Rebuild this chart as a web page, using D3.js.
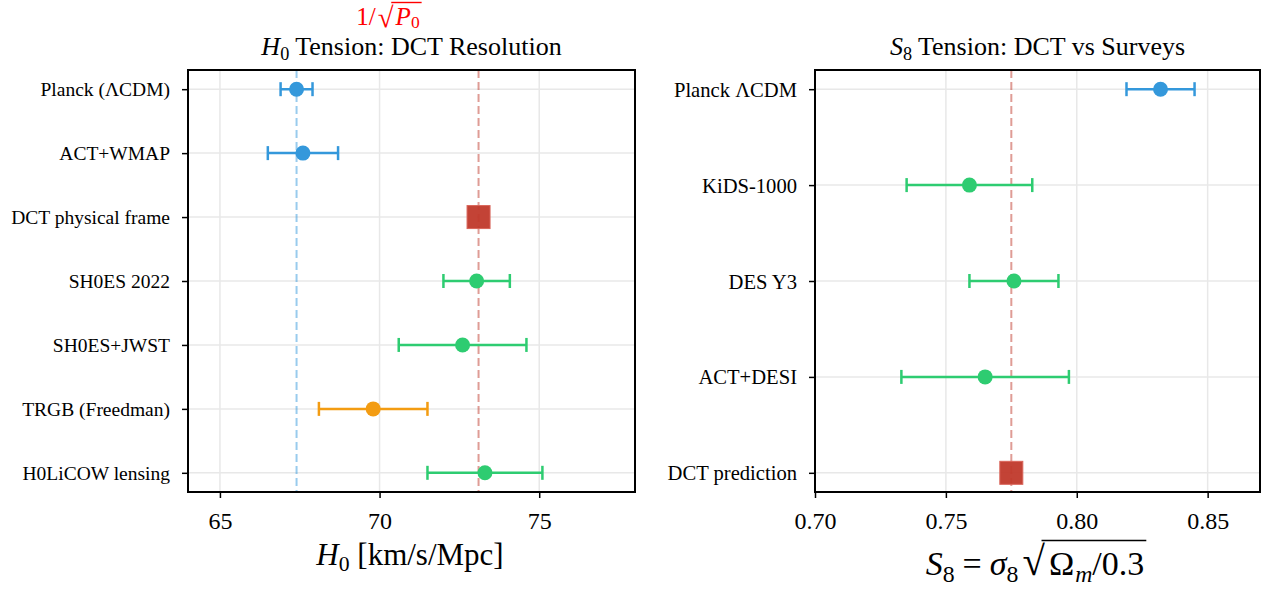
<!DOCTYPE html>
<html>
<head>
<meta charset="utf-8">
<script src="https://cdn.jsdelivr.net/npm/d3@7"></script>
<style>
  body { margin: 0; background: #fff; }
  text { white-space: pre; }
</style>
</head>
<body>
<svg id="chart" width="1261" height="589"></svg>
<script>
// DATA
var h0Labels = ["Planck (ΛCDM)", "ACT+WMAP", "DCT physical frame", "SH0ES 2022", "SH0ES+JWST", "TRGB (Freedman)", "H0LiCOW lensing"];
var h0Values = [67.4, 67.6, 73.1, 73.04, 72.6, 69.8, 73.3];
var h0Errors = [0.5, 1.1, 0, 1.04, 2.0, 1.7, 1.8];
var h0Kinds = ["cmb", "cmb", "dct", "local", "local", "trgb", "local"];
var h0Ticks = [65, 70, 75];
var h0Domain = [64, 78];
var h0PlanckLine = 67.4;
var h0DctLine = 73.1;

var s8Labels = ["Planck ΛCDM", "KiDS-1000", "DES Y3", "ACT+DESI", "DCT prediction"];
var s8Values = [0.832, 0.759, 0.776, 0.765, 0.775];
var s8Errors = [0.013, 0.024, 0.017, 0.032, 0];
var s8Kinds = ["cmb", "local", "local", "local", "dct"];
var s8Ticks = [0.70, 0.75, 0.80, 0.85];
var s8Domain = [0.70, 0.87];
var s8DctLine = 0.775;

var colors = { cmb: "#3498db", local: "#2ecc71", trgb: "#f39c12", dct: "#c0392b" };
var serif = "'Liberation Serif', 'Times New Roman', serif";

var svg = d3.select("#chart");

// little helper to lay out text with italics / subscripts / radical bar
function mathText(g, cx, baseline, parts, size, color, subDrop) {
  var grp = g.append("g");
  var drop = subDrop === undefined ? size * 0.2 : subDrop;
  var x = 0, barStart = null, barEnd = null, barY = baseline - size * 0.78;
  parts.forEach(function (p) {
    var fs = p.sub ? size * 0.7 : size * (p.scale || 1);
    var t = grp.append("text")
      .attr("x", x)
      .attr("y", baseline + (p.sub ? drop : 0) + (p.dy || 0))
      .attr("fill", color)
      .style("font-family", serif)
      .style("font-size", fs + "px")
      .style("font-style", p.it ? "italic" : "normal")
      .text(p.t);
    var w = t.node().getComputedTextLength();
    if (p.rad) {
      barStart = x + w * 0.85;
      barY = t.node().getBBox().y + 1.5;
    }
    if (p.under) { barEnd = x + w; }
    x += w + (p.gap || 0);
  });
  if (barStart !== null) {
    grp.append("line")
      .attr("x1", barStart).attr("x2", barEnd + 2)
      .attr("y1", barY).attr("y2", barY)
      .attr("stroke", color).attr("stroke-width", 1.4);
  }
  grp.attr("transform", "translate(" + (cx - x / 2) + ",0)");
  return grp;
}

function panel(opt) {
  var x = d3.scaleLinear().domain(opt.domain).range([opt.x0, opt.x1]);
  var y = d3.scaleLinear().domain(opt.yDomain).range([opt.y0, opt.y1]);
  var g = svg.append("g");
  var idx = d3.range(opt.labels.length);

  // grid
  g.selectAll(".gx").data(opt.ticks).enter().append("line")
    .attr("x1", function (d) { return x(d); }).attr("x2", function (d) { return x(d); })
    .attr("y1", opt.y0).attr("y2", opt.y1)
    .attr("stroke", "#e8e8e8").attr("stroke-width", 1.5);
  g.selectAll(".gy").data(idx).enter().append("line")
    .attr("x1", opt.x0).attr("x2", opt.x1)
    .attr("y1", function (d) { return y(d); }).attr("y2", function (d) { return y(d); })
    .attr("stroke", "#e8e8e8").attr("stroke-width", 1.5);

  // reference lines
  opt.refs.forEach(function (r) {
    g.append("line")
      .attr("x1", x(r.v)).attr("x2", x(r.v))
      .attr("y1", opt.y0).attr("y2", opt.y1)
      .attr("stroke", r.c).attr("stroke-opacity", 0.5)
      .attr("stroke-width", 2).attr("stroke-dasharray", "8,4");
  });

  // error bars
  var eb = idx.filter(function (i) { return opt.errors[i] > 0; });
  var bars = g.selectAll(".eb").data(eb).enter().append("g").attr("class", "eb")
    .attr("stroke", function (i) { return colors[opt.kinds[i]]; })
    .attr("stroke-width", 2.5);
  bars.append("line")
    .attr("x1", function (i) { return x(opt.values[i] - opt.errors[i]); })
    .attr("x2", function (i) { return x(opt.values[i] + opt.errors[i]); })
    .attr("y1", function (i) { return y(i); }).attr("y2", function (i) { return y(i); });
  [-1, 1].forEach(function (s) {
    bars.append("line")
      .attr("x1", function (i) { return x(opt.values[i] + s * opt.errors[i]); })
      .attr("x2", function (i) { return x(opt.values[i] + s * opt.errors[i]); })
      .attr("y1", function (i) { return y(i) - 7; }).attr("y2", function (i) { return y(i) + 7; });
  });

  // markers
  g.selectAll(".pt").data(idx.filter(function (i) { return opt.kinds[i] !== "dct"; }))
    .enter().append("circle")
    .attr("cx", function (i) { return x(opt.values[i]); })
    .attr("cy", function (i) { return y(i); })
    .attr("r", 7.5)
    .attr("fill", function (i) { return colors[opt.kinds[i]]; });
  g.selectAll(".sq").data(idx.filter(function (i) { return opt.kinds[i] === "dct"; }))
    .enter().append("rect")
    .attr("x", function (i) { return x(opt.values[i]) - 11.5; })
    .attr("y", function (i) { return y(i) - 11.5; })
    .attr("width", 23).attr("height", 23)
    .attr("fill", colors.dct).attr("fill-opacity", 0.95)
    .attr("stroke", "#d9655a").attr("stroke-width", 1);

  // axes
  var ax = g.append("g").attr("transform", "translate(0," + opt.y1 + ")")
    .call(d3.axisBottom(x).tickValues(opt.ticks).tickFormat(opt.fmt).tickSize(6).tickPadding(8));
  ax.select(".domain").remove();
  ax.selectAll(".tick line").attr("stroke", "#000").attr("stroke-width", 1.5);
  ax.selectAll(".tick text").attr("fill", "#000").attr("dy", null).attr("y", 37)
    .style("font-family", serif).style("font-size", "24px");

  var ay = g.append("g").attr("transform", "translate(" + opt.x0 + ",0)")
    .call(d3.axisLeft(y).tickValues(idx).tickFormat(function (i) { return opt.labels[i]; }).tickSize(6).tickPadding(12));
  ay.select(".domain").remove();
  ay.selectAll(".tick line").attr("stroke", "#000").attr("stroke-width", 1.5);
  ay.selectAll(".tick text").attr("fill", "#000").attr("dy", "0.34em")
    .style("font-family", serif).style("font-size", opt.ySize + "px");

  // frame
  g.append("rect")
    .attr("x", opt.x0).attr("y", opt.y0)
    .attr("width", opt.x1 - opt.x0).attr("height", opt.y1 - opt.y0)
    .attr("fill", "none").attr("stroke", "#000").attr("stroke-width", 2);

  mathText(g, (opt.x0 + opt.x1) / 2, 55, opt.title, 26, "#000");
  mathText(g, opt.xLabelX, opt.xLabelY, opt.xLabel, opt.xLabelSize, "#000");
  return { x: x, y: y, g: g };
}

var left = panel({
  x0: 188, x1: 635, y0: 70, y1: 492,
  domain: h0Domain, yDomain: [-0.3, h0Labels.length - 1 + 0.3],
  labels: h0Labels, values: h0Values, errors: h0Errors, kinds: h0Kinds,
  ticks: h0Ticks, fmt: d3.format("d"), ySize: 19.5,
  refs: [{ v: h0PlanckLine, c: colors.cmb }, { v: h0DctLine, c: colors.dct }],
  title: [{ t: "H", it: true }, { t: "0", sub: true }, { t: " Tension: DCT Resolution" }],
  xLabel: [{ t: "H", it: true }, { t: "0", sub: true }, { t: " [km/s/Mpc]" }],
  xLabelX: 410, xLabelY: 565, xLabelSize: 31
});

var right = panel({
  x0: 815, x1: 1260, y0: 70, y1: 492,
  domain: s8Domain, yDomain: [-0.2, s8Labels.length - 1 + 0.2],
  labels: s8Labels, values: s8Values, errors: s8Errors, kinds: s8Kinds,
  ticks: s8Ticks, fmt: d3.format(".2f"), ySize: 20.6,
  refs: [{ v: s8DctLine, c: colors.dct }],
  title: [{ t: "S", it: true }, { t: "8", sub: true }, { t: " Tension: DCT vs Surveys" }],
  xLabel: [{ t: "S", it: true }, { t: "8", sub: true, gap: 8 }, { t: "=", gap: 8 }, { t: "σ", it: true },
           { t: "8", sub: true, gap: 4 }, { t: "√", rad: true, scale: 1.2, gap: 4 }, { t: "Ω", gap: 1 }, { t: "m", it: true, sub: true },
           { t: "/0.3", under: true }],
  xLabelX: 1035, xLabelY: 575, xLabelSize: 34
});

// red annotation above the left title
mathText(svg, 388, 25, [{ t: "1/", gap: 2 }, { t: "√", rad: true, scale: 1.15, dy: 2, gap: 2 }, { t: "P", it: true }, { t: "0", sub: true, under: true }], 25, "#ff0000", 3);
</script>
</body>
</html>
